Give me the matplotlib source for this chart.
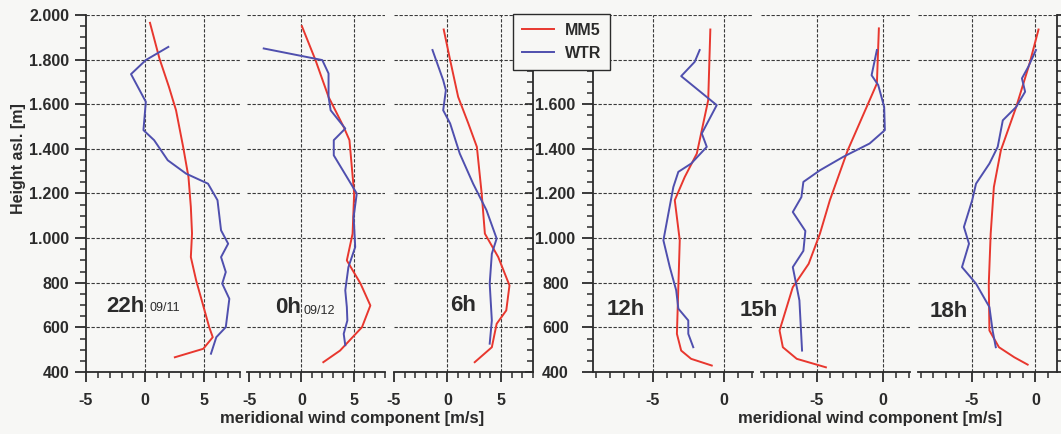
import matplotlib
matplotlib.use("Agg")
import matplotlib.pyplot as plt
from matplotlib.ticker import MultipleLocator, FuncFormatter

plt.rcParams['font.family'] = ['Liberation Sans', 'DejaVu Sans']
plt.rcParams['font.weight'] = 'bold'
plt.rcParams['axes.unicode_minus'] = False

# ---------------- data (height asl [m], meridional wind [m/s]) ----------------
mm5_22h_h = [1965, 1805, 1678, 1573, 1409, 1274, 1140, 1021, 915, 810, 706, 601, 556, 504, 466]
mm5_22h_v = [0.4, 1.2, 2.0, 2.6, 3.2, 3.65, 3.85, 3.95, 3.85, 4.3, 4.85, 5.4, 5.7, 4.9, 2.5]
wtr_22h_h = [1857, 1798, 1735, 1611, 1484, 1439, 1349, 1289, 1244, 1170, 1035, 975, 915, 848, 796, 728, 601, 556, 482]
wtr_22h_v = [1.95, 0.05, -1.2, 0.05, -0.15, 0.75, 1.9, 3.45, 5.3, 6.1, 6.4, 7.0, 6.4, 6.8, 6.5, 7.1, 6.8, 6.0, 5.55]

mm5_0h_h = [1950, 1798, 1633, 1498, 1439, 1200, 1020, 900, 797, 698, 601, 496, 444]
mm5_0h_v = [0.05, 1.35, 2.6, 4.05, 4.6, 5.05, 4.9, 4.35, 5.65, 6.6, 5.8, 3.7, 2.1]
wtr_0h_h = [1850, 1798, 1738, 1633, 1573, 1491, 1439, 1371, 1274, 1200, 1095, 960, 870, 766, 691, 631, 571, 520]
wtr_0h_v = [-3.6, 2.0, 2.6, 2.6, 2.8, 4.2, 3.1, 3.1, 4.35, 5.3, 5.0, 5.15, 4.5, 4.2, 4.35, 4.4, 4.05, 4.2]

mm5_6h_h = [1935, 1798, 1633, 1514, 1409, 1200, 1020, 915, 788, 676, 616, 511, 444]
mm5_6h_v = [-0.35, 0.25, 1.0, 1.95, 2.75, 3.2, 3.5, 4.75, 5.8, 5.5, 4.6, 4.15, 2.55]
wtr_6h_h = [1843, 1708, 1663, 1573, 1514, 1379, 1244, 1125, 998, 930, 796, 631, 527]
wtr_6h_v = [-1.4, -0.4, -0.15, -0.4, 0.25, 1.15, 2.4, 3.65, 4.6, 4.15, 3.95, 4.15, 3.95]

mm5_12h_h = [1935, 1618, 1379, 1274, 1170, 990, 780, 571, 496, 459, 429]
mm5_12h_v = [-0.95, -1.1, -1.9, -2.75, -3.45, -3.1, -3.2, -3.3, -3.0, -2.3, -0.85]
wtr_12h_h = [1843, 1790, 1726, 1596, 1469, 1409, 1334, 1297, 1229, 1110, 990, 870, 766, 684, 631, 571, 511]
wtr_12h_v = [-1.7, -2.05, -3.0, -0.5, -1.55, -1.2, -2.3, -3.2, -3.55, -3.9, -4.25, -3.8, -3.35, -3.2, -2.5, -2.5, -2.15]

mm5_15h_h = [1940, 1693, 1618, 1394, 1170, 1020, 885, 780, 586, 511, 459, 421]
mm5_15h_v = [-0.3, -0.45, -1.0, -2.65, -4.0, -4.75, -5.6, -6.8, -7.8, -7.55, -6.5, -4.3]
wtr_15h_h = [1843, 1730, 1686, 1588, 1484, 1424, 1364, 1304, 1252, 1184, 1117, 1032, 943, 870, 721, 496]
wtr_15h_v = [-0.45, -0.85, -0.35, 0.1, 0.15, -1.0, -3.0, -4.75, -6.0, -6.15, -6.8, -5.85, -6.0, -6.8, -6.3, -6.1]

mm5_18h_h = [1935, 1783, 1588, 1394, 1229, 1020, 796, 586, 511, 466, 433]
mm5_18h_v = [0.25, -0.45, -1.5, -2.7, -3.25, -3.5, -3.65, -3.6, -2.85, -1.65, -0.6]
wtr_18h_h = [1843, 1768, 1716, 1656, 1588, 1528, 1409, 1334, 1244, 1170, 1050, 975, 870, 796, 691, 586, 511]
wtr_18h_v = [0.05, -0.55, -1.05, -0.8, -1.5, -2.55, -2.95, -3.6, -4.65, -4.95, -5.6, -5.2, -5.75, -4.65, -3.6, -3.35, -3.1]

hours = ["22h", "0h", "6h", "12h", "15h", "18h"]
dates = ["09/11", "09/12", "", "", "", ""]
series_names = ["MM5", "WTR"]
x_label = "meridional wind component [m/s]"
y_label = "Height asl. [m]"

mm5 = [(mm5_22h_h, mm5_22h_v), (mm5_0h_h, mm5_0h_v), (mm5_6h_h, mm5_6h_v),
       (mm5_12h_h, mm5_12h_v), (mm5_15h_h, mm5_15h_v), (mm5_18h_h, mm5_18h_v)]
wtr = [(wtr_22h_h, wtr_22h_v), (wtr_0h_h, wtr_0h_v), (wtr_6h_h, wtr_6h_v),
       (wtr_12h_h, wtr_12h_v), (wtr_15h_h, wtr_15h_v), (wtr_18h_h, wtr_18h_v)]

# ---------------- layout ----------------
W, H = 1061, 434
Y_TOP, Y_BOT = 15, 372
RED = '#e8372e'
BLUE = '#4f4fae'
INK = '#2b2b2b'
GRID = '#3a3a3a'
BG = '#f7f7f5'

# (left px, right px, xlim)
layout = [
    (86, 240, (-5.0, 8.0)),
    (247, 385, (-5.2, 8.0)),
    (394, 533, (-5.0, 8.0)),
    (593, 753, (-9.2, 2.05)),
    (761, 910, (-9.2, 2.05)),
    (918, 1057, (-9.2, 1.7)),
]
label_pos = [(106, 312, 150, 311), (275, 313, 303, 314), (450, 311, 0, 0),
             (607, 315, 0, 0), (740, 316, 0, 0), (930, 317, 0, 0)]

fig = plt.figure(figsize=(W / 100, H / 100), dpi=100)
fig.patch.set_facecolor(BG)

fmt_left = FuncFormatter(lambda v, p: f"{int(round(v)):,}".replace(',', '.'))
fmt_right = FuncFormatter(lambda v, p: "" if v > 1700 else f"{int(round(v)):,}".replace(',', '.'))

handles = None
for i, ((x0, x1, xl), (mh, mv), (wh, wv)) in enumerate(zip(layout, mm5, wtr)):
    ax = fig.add_axes([x0 / W, 1 - Y_BOT / H, (x1 - x0) / W, (Y_BOT - Y_TOP) / H])
    ax.set_facecolor('none')
    ax.set_xlim(*xl)
    ax.set_ylim(400, 2000)
    for s in ['top', 'left', 'right']:
        ax.spines[s].set_visible(False)
    ax.spines['bottom'].set_color(INK)
    ax.spines['bottom'].set_linewidth(1.3)

    # grid
    ax.yaxis.set_major_locator(MultipleLocator(200))
    ax.yaxis.set_minor_locator(MultipleLocator(50))
    ax.yaxis.grid(True, which='major', linestyle=(0, (3, 1.5)), color=GRID, lw=0.8, zorder=1)
    gx = [0, 5] if i < 3 else [-5, 0]
    for g in gx:
        ax.axvline(g, linestyle=(0, (3, 1.5)), color=GRID, lw=0.8, zorder=1)

    ax.xaxis.set_major_locator(MultipleLocator(5))
    ax.xaxis.set_minor_locator(MultipleLocator(1))
    ax.tick_params(axis='x', which='major', direction='out', length=7, width=1.3,
                   color=INK, labelcolor=INK, labelsize=11.5, pad=8)
    ax.tick_params(axis='x', which='minor', direction='out', length=4, width=1.1, color=INK)

    ax.tick_params(axis='y', which='both', left=False, right=False, labelleft=False, labelright=False)
    if i == 0:
        ax.spines['left'].set_visible(True)
        ax.spines['left'].set_color(INK)
        ax.spines['left'].set_linewidth(1.3)
        ax.yaxis.set_major_formatter(fmt_left)
        ax.tick_params(axis='y', which='major', left=True, labelleft=True, direction='out',
                       length=8, width=1.3, color=INK, labelcolor=INK, labelsize=11.5, pad=4)
        ax.tick_params(axis='y', which='minor', left=True, direction='out', length=4, width=1.1, color=INK)
    if i == 2:
        ax.spines['right'].set_visible(True)
        ax.spines['right'].set_color(INK)
        ax.spines['right'].set_linewidth(1.3)
        ax.tick_params(axis='y', which='major', right=True, direction='in', length=6, width=1.2, color=INK)
        ax.tick_params(axis='y', which='minor', right=True, direction='in', length=4, width=1.1, color=INK)
    if i == 3:
        ax.spines['left'].set_visible(True)
        ax.spines['left'].set_color(INK)
        ax.spines['left'].set_linewidth(1.3)
        ax.yaxis.set_major_formatter(fmt_right)
        ax.tick_params(axis='y', which='major', left=True, labelleft=True, direction='out',
                       length=8, width=1.3, color=INK, labelcolor=INK, labelsize=11.5, pad=19)
        ax.tick_params(axis='y', which='minor', left=True, direction='out', length=4, width=1.1, color=INK)
        plt.setp(ax.get_yticklabels(), ha='center')
    if i == 5:
        ax.spines['right'].set_visible(True)
        ax.spines['right'].set_color(INK)
        ax.spines['right'].set_linewidth(1.3)
        ax.tick_params(axis='y', which='major', right=True, direction='out', length=7, width=1.3, color=INK)
        ax.tick_params(axis='y', which='minor', right=True, direction='out', length=4, width=1.1, color=INK)

    l1, = ax.plot(mv, mh, color=RED, lw=1.4, zorder=3, label=series_names[0])
    l2, = ax.plot(wv, wh, color=BLUE, lw=1.4, zorder=3, label=series_names[1])
    if handles is None:
        handles = [l1, l2]

    hx, hy, dx, dy = label_pos[i]
    fig.text(hx / W, 1 - hy / H, hours[i], fontsize=16, fontweight='bold', color=INK, va='baseline')
    if dates[i]:
        fig.text(dx / W, 1 - dy / H, dates[i], fontsize=9, fontweight='normal', color=INK, va='baseline')

# axis labels
fig.text(19 / W, 1 - 159 / H, y_label, rotation=90, ha='center', va='center',
         fontsize=11.5, fontweight='bold', color=INK)
fig.text(352 / W, 1 - 423 / H, x_label, ha='center', va='baseline', fontsize=12, fontweight='bold', color=INK)
fig.text(870 / W, 1 - 423 / H, x_label, ha='center', va='baseline', fontsize=12, fontweight='bold', color=INK)

leg = fig.legend(handles=handles, loc='upper left', bbox_to_anchor=(513 / W, 1 - 14 / H),
                 frameon=True, fancybox=False, shadow=False, fontsize=11.5, handlelength=2.0,
                 handletextpad=0.7, labelspacing=0.5, borderpad=0.55, borderaxespad=0)
leg.get_frame().set_edgecolor(INK)
leg.get_frame().set_linewidth(1.0)
leg.get_frame().set_facecolor(BG)
leg.get_frame().set_alpha(1)
for t in leg.get_texts():
    t.set_color(INK)
leg.set_zorder(10)

fig.savefig("out.png", dpi=100, facecolor=fig.get_facecolor())
